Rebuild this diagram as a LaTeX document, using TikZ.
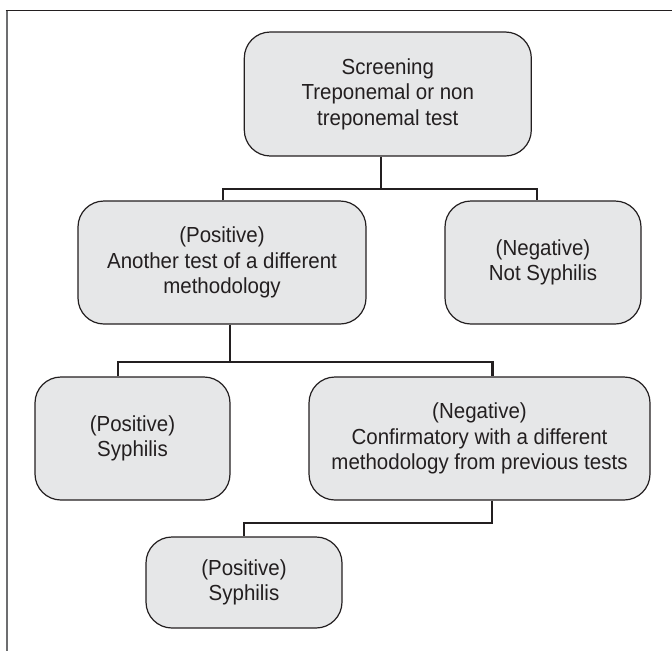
\documentclass[tikz,border=0pt]{standalone}
\usepackage{fontspec}
\setmainfont{Liberation Sans}[FakeStretch=0.94]
\definecolor{boxfill}{HTML}{E6E7E8}
\definecolor{ink}{HTML}{231F20}
\definecolor{framegray}{HTML}{6D6E70}
\begin{document}
\begin{tikzpicture}[x=1pt,y=-1pt,
  fbox/.style={draw=ink, fill=boxfill, line width=1.2pt, rounded corners=26pt,
    align=center, text=ink, inner sep=2pt, font=\fontsize{21.8}{25.5}\selectfont},
  conn/.style={draw=ink, line width=2.4pt}]
\useasboundingbox (0,0) rectangle (672,651);
% frame
\draw[framegray, line width=2pt] (6.5,10.5) -- (6.5,651);
\draw[ink, line width=1.2pt] (5.5,10.5) -- (672,10.5);
% boxes
\node[fbox, minimum width=287pt, minimum height=124pt] (top) at (387.8,94) {Screening\\Treponemal or non\\treponemal test};
\node[fbox, minimum width=288pt, minimum height=123pt] (pos1) at (222,262.5) {(Positive)\\Another test of a different\\methodology};
\node[fbox, minimum width=196pt, minimum height=123pt] (neg1) at (543,262.5) {(Negative)\\Not Syphilis};
\node[fbox, minimum width=195pt, minimum height=123pt] (pos2) at (132.5,438.5) {(Positive)\\Syphilis};
\node[fbox, minimum width=341pt, minimum height=123pt] (neg2) at (479.5,438.5) {(Negative)\\Confirmatory with a different\\methodology from previous tests};
\node[fbox, minimum width=196pt, minimum height=91pt] (pos3) at (244,582.5) {(Positive)\\Syphilis};
% junctions
\coordinate (j1) at (381,189);
\coordinate (j1l) at (223,189);
\coordinate (j1r) at (537,189);
\coordinate (j2) at (230,362);
\coordinate (j2l) at (118,362);
\coordinate (j2r) at (492.5,362);
\coordinate (j3) at (492,523);
\coordinate (j3l) at (244,523);
% connectors
\draw[conn] (top.south -| j1) -- (j1);
\draw[conn] (pos1.north -| j1l) -- (j1l) -- (j1r) -- (neg1.north -| j1r);
\draw[conn] (pos1.south -| j2) -- (j2);
\draw[conn] (pos2.north -| j2l) -- (j2l) -- (j2r) -- (neg2.north -| j2r);
\draw[conn] (neg2.south -| j3) -- (j3) -- (j3l) -- (pos3.north -| j3l);
\end{tikzpicture}
\end{document}
